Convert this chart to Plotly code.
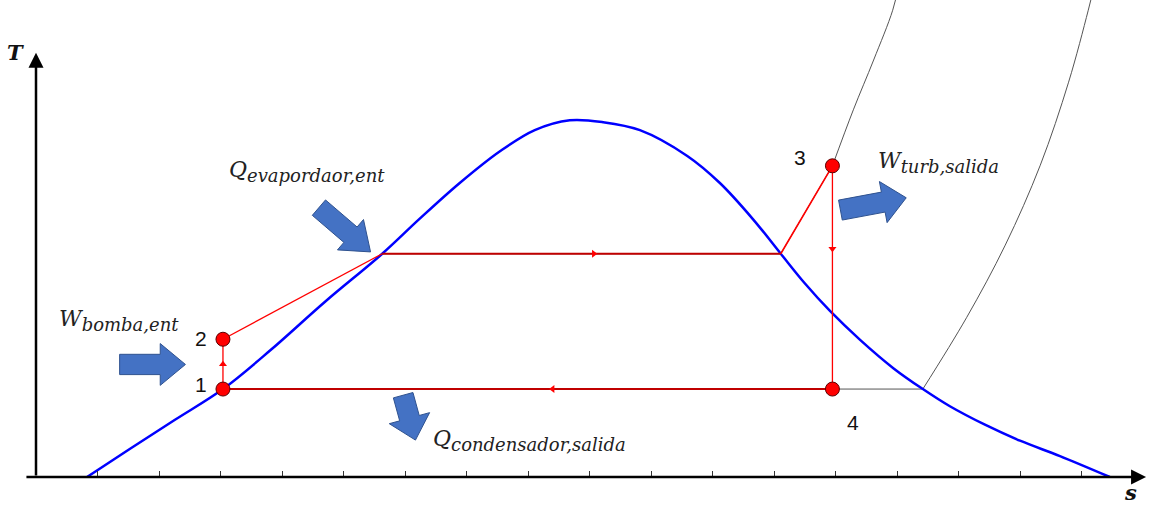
import numpy as np
import plotly.graph_objects as go

# ---- Saturation dome (entropy s, temperature T, arbitrary units) ----
dome_s = [0.83, 1.53, 2.26, 3.04, 3.81, 4.70, 5.63, 6.24, 6.89, 7.55, 8.11, 8.68,
          9.22, 9.82, 10.59, 11.12, 11.66, 12.11, 12.50, 12.91, 13.40, 13.94,
          14.42, 14.86, 15.43, 16.00, 16.65, 17.46]
dome_T = [0.00, 0.46, 0.93, 1.43, 2.06, 2.85, 3.63, 4.20, 4.78, 5.30, 5.64, 5.80,
          5.77, 5.64, 5.22, 4.78, 4.19, 3.63, 3.15, 2.70, 2.23, 1.77,
          1.43, 1.15, 0.85, 0.59, 0.34, 0.00]

# ---- Rankine cycle states 1..4 ----
state_names = ["1", "2", "3", "4"]
state_s = [3.04, 3.04, 12.95, 12.95]
state_T = [1.43, 2.24, 5.06, 1.43]

# saturation temperatures and saturated-liquid / saturated-vapour entropies
T_evap = 3.63
s_liq_evap = 5.63
s_vap_evap = 12.11
T_cond = 1.43
s_vap_cond = 14.42

# ---- Isobars above the dome (superheated region) ----
hi_iso_s = [12.95, 13.29, 13.62, 13.93, 14.03]
hi_iso_T = [5.06, 5.97, 6.78, 7.59, 8.00]
lo_iso_s = [14.42, 15.13, 15.76, 16.33, 16.79, 17.11, 17.21]
lo_iso_T = [1.43, 2.59, 3.77, 5.07, 6.42, 7.59, 8.00]

tick_s = list(range(1, 18))

PX = 61.5  # pixels per unit on both axes
W, H = 1151, 506
MB = 29
x_range = [-36 / PX, (W - 36) / PX]
y_range = [0, (H - MB) / PX]

RED = "#FF0000"
DARK_RED = "#C00000"
GRAY = "#555555"
ARROW_FILL = "#4472C4"
ARROW_EDGE = "#2F528F"

fig = go.Figure()


def line(xs, ys, color, width, shape="linear"):
    fig.add_trace(go.Scatter(x=xs, y=ys, mode="lines", hoverinfo="skip",
                             line=dict(color=color, width=width, shape=shape,
                                       smoothing=1.0)))


# gray isobars
line([s_liq_evap, s_vap_evap, state_s[2]], [T_evap, T_evap, state_T[2]], GRAY, 1)
line(hi_iso_s, hi_iso_T, GRAY, 1, "spline")
line([state_s[0], s_vap_cond], [T_cond, T_cond], GRAY, 1)
line(lo_iso_s, lo_iso_T, GRAY, 1, "spline")

# saturation dome
line(dome_s, dome_T, "#0000FF", 2.5, "spline")

# cycle path
line([state_s[0], state_s[1]], [state_T[0], state_T[1]], RED, 1.3)
line([state_s[1], s_liq_evap], [state_T[1], T_evap], RED, 1.3)
line([s_liq_evap, s_vap_evap], [T_evap, T_evap], DARK_RED, 2)
line([s_vap_evap, state_s[2]], [T_evap, state_T[2]], RED, 1.6)
line([state_s[2], state_s[3]], [state_T[2], state_T[3]], RED, 1.3)
line([state_s[3], state_s[0]], [state_T[3], state_T[0]], DARK_RED, 2)

# direction marks on the process lines
dir_s = [state_s[0], (s_liq_evap + s_vap_evap) / 2 + 0.2, state_s[2], 8.40]
dir_T = [(state_T[0] + state_T[1]) / 2, T_evap, 3.71, T_cond]
dir_sym = ["triangle-up", "triangle-right", "triangle-down", "triangle-left"]
fig.add_trace(go.Scatter(x=dir_s, y=dir_T, mode="markers", hoverinfo="skip",
                         marker=dict(symbol=dir_sym, size=7, color=RED)))

# state points
fig.add_trace(go.Scatter(x=state_s, y=state_T, mode="markers", hoverinfo="skip",
                         marker=dict(size=14, color=RED,
                                     line=dict(color="#5A0000", width=1))))


def block_arrow(tail, tip, body_w, head_w, head_len):
    """Filled block arrow between two points, sizes in axis units."""
    tx, ty = tail
    hx, hy = tip
    d = np.array([hx - tx, hy - ty], dtype=float)
    L = np.hypot(*d)
    u = d / L
    n = np.array([-u[1], u[0]])
    t = np.array([tx, ty])
    b = t + u * (L - head_len)
    pts = [t + n * body_w / 2, b + n * body_w / 2, b + n * head_w / 2,
           np.array([hx, hy]), b - n * head_w / 2, b - n * body_w / 2,
           t - n * body_w / 2, t + n * body_w / 2]
    fig.add_trace(go.Scatter(x=[p[0] for p in pts], y=[p[1] for p in pts],
                             mode="lines", fill="toself", fillcolor=ARROW_FILL,
                             hoverinfo="skip",
                             line=dict(color=ARROW_EDGE, width=1)))


block_arrow((1.36, 1.83), (2.43, 1.83), 0.33, 0.68, 0.41)      # pump work in
block_arrow((4.60, 4.38), (5.44, 3.66), 0.33, 0.65, 0.43)      # heat in
block_arrow((13.08, 4.34), (14.15, 4.54), 0.33, 0.68, 0.38)    # turbine work out
block_arrow((5.97, 1.33), (6.17, 0.60), 0.33, 0.68, 0.37)      # heat out

annotations = []

# axes drawn as arrows
for tail, tip in [((-0.18, 0), (18.05, 0)), ((0, 0), (0, 6.90))]:
    annotations.append(dict(x=tip[0], y=tip[1], ax=tail[0], ay=tail[1],
                            xref="x", yref="y", axref="x", ayref="y",
                            text="", showarrow=True, arrowhead=2, arrowsize=1.2,
                            arrowwidth=2.5, arrowcolor="black", standoff=0))

label_font = dict(family="DejaVu Serif", size=22, color="#222222")
num_font = dict(family="Liberation Sans", size=21, color="#111111")

for name, s, T in zip(state_names, [2.68, 2.68, 12.42, 13.29], [1.51, 2.26, 5.20, 0.88]):
    annotations.append(dict(x=s, y=T, text=name, showarrow=False, font=num_font,
                            xanchor="center", yanchor="middle"))


def sym(main, sub):
    return ("<i>%s</i><sub><span style='font-size:18px'><i>%s</i></span></sub>"
            % (main, sub))


texts = [
    (sym("W", "bomba,ent"), 0.34, 2.55),
    (sym("Q", "evapordaor,ent"), 3.10, 4.96),
    (sym("W", "turb,salida"), 13.66, 5.11),
    (sym("Q", "condensador,salida"), 6.42, 0.60),
]
for txt, s, T in texts:
    annotations.append(dict(x=s, y=T, text=txt, showarrow=False, font=label_font,
                            xanchor="left", yanchor="middle"))

axis_font = dict(family="DejaVu Serif", size=21, color="#111111")
annotations.append(dict(x=-0.34, y=6.91, text="<b><i>T</i></b>", showarrow=False,
                        font=axis_font, xanchor="center", yanchor="middle"))
annotations.append(dict(x=1130 / W, y=-16 / (H - MB), xref="paper", yref="paper",
                        text="<b><i>s</i></b>", showarrow=False, font=axis_font,
                        xanchor="center", yanchor="middle"))

fig.update_layout(
    width=W, height=H,
    margin=dict(l=0, r=0, t=0, b=MB),
    paper_bgcolor="white", plot_bgcolor="white",
    showlegend=False,
    annotations=annotations,
    xaxis=dict(range=x_range, showgrid=False, zeroline=False, showline=False,
               ticks="inside", tickvals=tick_s, ticklen=6, tickwidth=1,
               tickcolor="#333333", showticklabels=False, fixedrange=True),
    yaxis=dict(range=y_range, showgrid=False, zeroline=False, showline=False,
               showticklabels=False, ticks="", fixedrange=True),
)

fig.write_html("out.html", config={"displayModeBar": False})
